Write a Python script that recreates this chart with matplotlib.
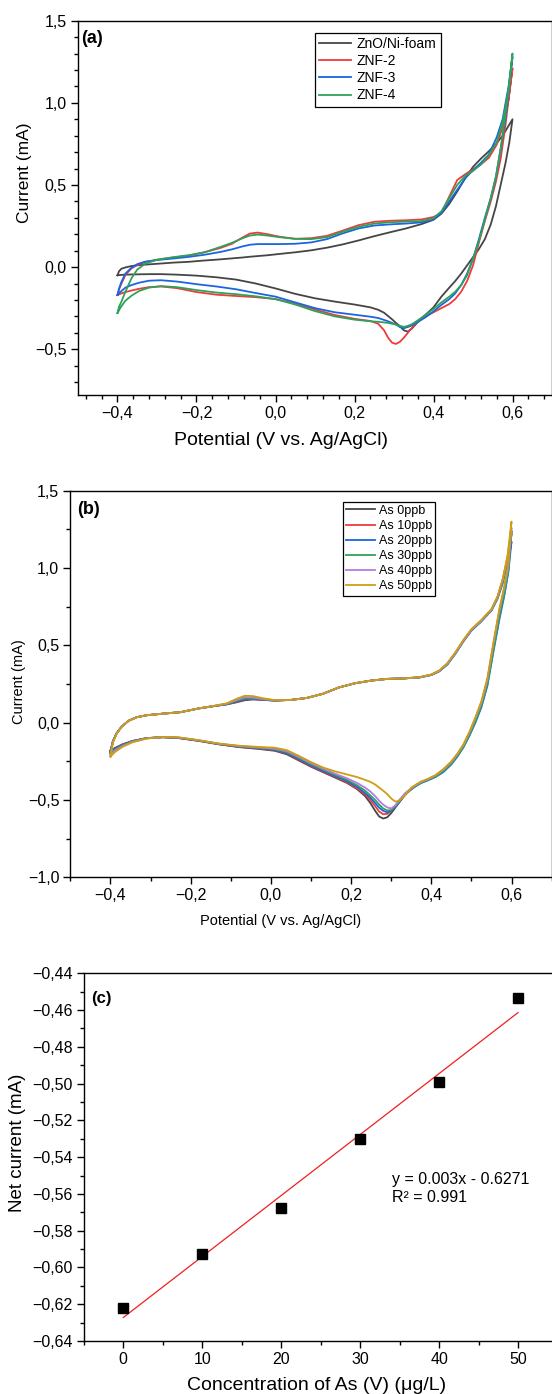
import numpy as np
import matplotlib
matplotlib.use("Agg")
import matplotlib.pyplot as plt
from matplotlib.ticker import MultipleLocator, FuncFormatter

plt.rcParams["font.family"] = ["Liberation Sans", "DejaVu Sans"]

# ---------------- panel (a): CVs of the electrodes ----------------
E_fwd_a = [-0.400, -0.396, -0.390, -0.380, -0.365, -0.350, -0.330, -0.300, -0.260, -0.220,
           -0.180, -0.140, -0.110, -0.085, -0.065, -0.045, -0.020, 0.010, 0.050, 0.090,
           0.130, 0.170, 0.210, 0.250, 0.290, 0.330, 0.370, 0.400, 0.420, 0.440,
           0.460, 0.480, 0.500, 0.520, 0.540, 0.560, 0.575, 0.590, 0.600]
E_rev_a = [0.600, 0.592, 0.582, 0.570, 0.558, 0.545, 0.530, 0.515, 0.500, 0.485,
           0.470, 0.455, 0.440, 0.420, 0.400, 0.380, 0.360, 0.345, 0.335, 0.325,
           0.315, 0.305, 0.295, 0.285, 0.275, 0.260, 0.240, 0.200, 0.150, 0.100,
           0.050, 0.000, -0.050, -0.100, -0.150, -0.200, -0.250, -0.290, -0.320, -0.345,
           -0.365, -0.380, -0.392, -0.400]

names_a = ["ZnO/Ni-foam", "ZNF-2", "ZNF-3", "ZNF-4"]
colors_a = ["#454545", "#ee3b3b", "#1a66e0", "#2ea25a"]

fwd_zno = [-0.05, -0.025, -0.010, -0.002, 0.006, 0.011, 0.015, 0.020, 0.027, 0.032,
           0.040, 0.047, 0.053, 0.058, 0.063, 0.067, 0.072, 0.080, 0.090, 0.102,
           0.118, 0.138, 0.162, 0.188, 0.212, 0.235, 0.262, 0.288, 0.325, 0.385,
           0.460, 0.540, 0.610, 0.660, 0.705, 0.755, 0.800, 0.860, 0.900]
rev_zno = [0.90, 0.76, 0.63, 0.50, 0.37, 0.26, 0.17, 0.11, 0.06, 0.01,
           -0.04, -0.085, -0.125, -0.18, -0.245, -0.29, -0.335, -0.375, -0.393, -0.385,
           -0.36, -0.34, -0.318, -0.298, -0.278, -0.26, -0.245, -0.228, -0.21, -0.19,
           -0.163, -0.13, -0.10, -0.076, -0.062, -0.052, -0.046, -0.043, -0.043, -0.044,
           -0.045, -0.046, -0.048, -0.05]

fwd_znf2 = [-0.17, -0.135, -0.10, -0.048, -0.008, 0.012, 0.030, 0.045, 0.058, 0.070,
            0.090, 0.116, 0.142, 0.178, 0.204, 0.210, 0.200, 0.185, 0.172, 0.176,
            0.190, 0.222, 0.255, 0.276, 0.282, 0.285, 0.290, 0.305, 0.33, 0.43,
            0.53, 0.565, 0.595, 0.625, 0.665, 0.745, 0.85, 1.02, 1.21]
rev_znf2 = [1.21, 1.06, 0.86, 0.66, 0.52, 0.40, 0.28, 0.15, 0.01, -0.085,
            -0.15, -0.195, -0.225, -0.25, -0.275, -0.30, -0.33, -0.37, -0.40, -0.43,
            -0.455, -0.468, -0.46, -0.43, -0.385, -0.345, -0.328, -0.315, -0.292, -0.258,
            -0.222, -0.195, -0.183, -0.176, -0.168, -0.152, -0.128, -0.118, -0.122, -0.132,
            -0.143, -0.152, -0.162, -0.17]

fwd_znf3 = [-0.17, -0.13, -0.09, -0.04, -0.005, 0.018, 0.033, 0.043, 0.052, 0.062,
            0.075, 0.092, 0.108, 0.125, 0.136, 0.140, 0.140, 0.140, 0.142, 0.150,
            0.170, 0.205, 0.235, 0.253, 0.260, 0.265, 0.272, 0.290, 0.33, 0.40,
            0.47, 0.54, 0.59, 0.635, 0.685, 0.79, 0.90, 1.10, 1.28]
rev_znf3 = [1.28, 1.10, 0.90, 0.72, 0.55, 0.42, 0.30, 0.17, 0.05, -0.04,
            -0.11, -0.16, -0.195, -0.23, -0.27, -0.305, -0.335, -0.355, -0.365, -0.372,
            -0.365, -0.35, -0.34, -0.33, -0.322, -0.31, -0.302, -0.29, -0.275, -0.25,
            -0.215, -0.18, -0.158, -0.135, -0.118, -0.104, -0.088, -0.08, -0.083, -0.095,
            -0.11, -0.125, -0.15, -0.17]

fwd_znf4 = [-0.28, -0.24, -0.21, -0.15, -0.07, -0.015, 0.020, 0.045, 0.060, 0.072,
            0.090, 0.122, 0.148, 0.174, 0.192, 0.198, 0.192, 0.182, 0.172, 0.170,
            0.182, 0.215, 0.245, 0.265, 0.273, 0.277, 0.280, 0.298, 0.34, 0.42,
            0.50, 0.555, 0.585, 0.625, 0.68, 0.76, 0.88, 1.08, 1.30]
rev_znf4 = [1.30, 1.12, 0.92, 0.72, 0.55, 0.42, 0.29, 0.16, 0.05, -0.05,
            -0.11, -0.15, -0.18, -0.215, -0.255, -0.29, -0.325, -0.348, -0.358, -0.364,
            -0.358, -0.35, -0.345, -0.34, -0.337, -0.333, -0.33, -0.32, -0.30, -0.268,
            -0.228, -0.195, -0.178, -0.165, -0.155, -0.14, -0.122, -0.116, -0.125, -0.145,
            -0.175, -0.205, -0.245, -0.28]

fwd_a = [fwd_zno, fwd_znf2, fwd_znf3, fwd_znf4]
rev_a = [rev_zno, rev_znf2, rev_znf3, rev_znf4]

# ---------------- panel (b): CVs with As additions ----------------
E_fwd_b = [-0.400, -0.394, -0.385, -0.372, -0.355, -0.335, -0.310, -0.270, -0.225, -0.180,
           -0.140, -0.110, -0.085, -0.065, -0.045, -0.020, 0.010, 0.050, 0.090, 0.130,
           0.170, 0.210, 0.250, 0.290, 0.330, 0.370, 0.400, 0.420, 0.440, 0.460,
           0.480, 0.500, 0.525, 0.550, 0.565, 0.578, 0.590, 0.600]
E_rev_b = [0.600, 0.592, 0.582, 0.570, 0.555, 0.540, 0.525, 0.510, 0.495, 0.480,
           0.465, 0.450, 0.430, 0.410, 0.390, 0.375, 0.365, 0.350, 0.335, 0.320,
           0.310, 0.300, 0.290, 0.280, 0.270, 0.260, 0.248, 0.235, 0.215, 0.190,
           0.160, 0.130, 0.100, 0.070, 0.040, 0.010, -0.030, -0.080, -0.130, -0.180,
           -0.230, -0.270, -0.310, -0.345, -0.370, -0.390, -0.400]

names_b = ["As 0ppb", "As 10ppb", "As 20ppb", "As 30ppb", "As 40ppb", "As 50ppb"]
colors_b = ["#454545", "#ee3b3b", "#1a66e0", "#2ea25a", "#b57be3", "#cf9e10"]

fwd_as0 = [-0.18, -0.12, -0.07, -0.025, 0.012, 0.035, 0.048, 0.058, 0.068, 0.092,
           0.108, 0.118, 0.132, 0.145, 0.150, 0.147, 0.143, 0.147, 0.160, 0.187,
           0.228, 0.255, 0.272, 0.283, 0.286, 0.293, 0.310, 0.335, 0.38, 0.45,
           0.53, 0.60, 0.66, 0.73, 0.81, 0.92, 1.06, 1.24]
fwd_as10 = [-0.19, -0.12, -0.07, -0.025, 0.012, 0.035, 0.048, 0.058, 0.068, 0.092,
            0.108, 0.119, 0.135, 0.150, 0.153, 0.148, 0.143, 0.147, 0.160, 0.187,
            0.228, 0.255, 0.272, 0.283, 0.286, 0.293, 0.310, 0.335, 0.38, 0.45,
            0.53, 0.60, 0.66, 0.73, 0.81, 0.92, 1.05, 1.22]
fwd_as20 = [-0.19, -0.12, -0.07, -0.025, 0.012, 0.035, 0.048, 0.058, 0.068, 0.092,
            0.108, 0.120, 0.138, 0.152, 0.155, 0.149, 0.143, 0.147, 0.160, 0.187,
            0.228, 0.255, 0.272, 0.283, 0.286, 0.292, 0.308, 0.332, 0.375, 0.445,
            0.525, 0.595, 0.655, 0.725, 0.80, 0.90, 1.03, 1.17]
fwd_as30 = [-0.20, -0.12, -0.07, -0.025, 0.012, 0.035, 0.048, 0.058, 0.068, 0.092,
            0.108, 0.121, 0.142, 0.157, 0.158, 0.151, 0.144, 0.147, 0.160, 0.187,
            0.228, 0.255, 0.272, 0.283, 0.286, 0.292, 0.308, 0.333, 0.377, 0.447,
            0.527, 0.597, 0.657, 0.727, 0.805, 0.91, 1.05, 1.23]
fwd_as40 = [-0.21, -0.125, -0.072, -0.025, 0.012, 0.035, 0.048, 0.058, 0.068, 0.092,
            0.109, 0.123, 0.148, 0.165, 0.163, 0.153, 0.145, 0.147, 0.160, 0.187,
            0.228, 0.255, 0.272, 0.283, 0.286, 0.293, 0.310, 0.335, 0.38, 0.45,
            0.53, 0.60, 0.66, 0.73, 0.81, 0.92, 1.07, 1.26]
fwd_as50 = [-0.22, -0.13, -0.075, -0.026, 0.012, 0.035, 0.048, 0.058, 0.068, 0.092,
            0.110, 0.125, 0.155, 0.174, 0.172, 0.158, 0.146, 0.147, 0.160, 0.187,
            0.228, 0.255, 0.272, 0.283, 0.286, 0.294, 0.312, 0.338, 0.385, 0.455,
            0.535, 0.605, 0.665, 0.735, 0.815, 0.93, 1.08, 1.30]

rev_as0 = [1.24, 1.00, 0.86, 0.72, 0.50, 0.27, 0.12, 0.02, -0.07, -0.15,
           -0.21, -0.26, -0.31, -0.345, -0.37, -0.385, -0.40, -0.43, -0.465, -0.515,
           -0.55, -0.585, -0.612, -0.62, -0.607, -0.57, -0.52, -0.475, -0.43, -0.39,
           -0.355, -0.32, -0.285, -0.245, -0.205, -0.182, -0.170, -0.158, -0.140, -0.118,
           -0.100, -0.095, -0.100, -0.118, -0.140, -0.165, -0.180]
rev_as10 = [1.22, 1.00, 0.86, 0.72, 0.50, 0.27, 0.12, 0.02, -0.07, -0.15,
            -0.21, -0.26, -0.31, -0.345, -0.37, -0.385, -0.40, -0.43, -0.46, -0.51,
            -0.54, -0.57, -0.59, -0.592, -0.575, -0.54, -0.50, -0.465, -0.425, -0.385,
            -0.35, -0.315, -0.28, -0.24, -0.20, -0.178, -0.167, -0.156, -0.139, -0.117,
            -0.099, -0.094, -0.100, -0.119, -0.142, -0.168, -0.190]
rev_as20 = [1.17, 0.97, 0.82, 0.67, 0.46, 0.24, 0.10, 0.0, -0.085, -0.16,
            -0.22, -0.27, -0.32, -0.352, -0.375, -0.39, -0.405, -0.43, -0.465, -0.515,
            -0.545, -0.57, -0.58, -0.57, -0.55, -0.52, -0.485, -0.455, -0.415, -0.378,
            -0.345, -0.31, -0.275, -0.235, -0.197, -0.176, -0.165, -0.155, -0.138, -0.116,
            -0.098, -0.093, -0.100, -0.120, -0.144, -0.170, -0.190]
rev_as30 = [1.23, 0.98, 0.83, 0.69, 0.47, 0.25, 0.11, 0.01, -0.08, -0.16,
            -0.215, -0.265, -0.315, -0.35, -0.372, -0.388, -0.402, -0.43, -0.46, -0.51,
            -0.54, -0.565, -0.568, -0.555, -0.53, -0.50, -0.47, -0.44, -0.405, -0.37,
            -0.338, -0.303, -0.268, -0.228, -0.19, -0.172, -0.163, -0.153, -0.137, -0.115,
            -0.097, -0.093, -0.101, -0.122, -0.147, -0.175, -0.200]
rev_as40 = [1.26, 1.01, 0.87, 0.73, 0.51, 0.28, 0.13, 0.03, -0.065, -0.145,
            -0.205, -0.255, -0.305, -0.342, -0.368, -0.383, -0.398, -0.425, -0.455, -0.50,
            -0.535, -0.555, -0.548, -0.53, -0.505, -0.475, -0.445, -0.42, -0.39, -0.36,
            -0.33, -0.297, -0.262, -0.222, -0.185, -0.168, -0.160, -0.151, -0.136, -0.114,
            -0.096, -0.093, -0.102, -0.124, -0.151, -0.182, -0.210]
rev_as50 = [1.30, 1.03, 0.88, 0.74, 0.52, 0.29, 0.14, 0.035, -0.06, -0.14,
            -0.20, -0.25, -0.30, -0.34, -0.365, -0.38, -0.395, -0.42, -0.47, -0.505,
            -0.51, -0.49, -0.462, -0.44, -0.42, -0.40, -0.383, -0.37, -0.352, -0.335,
            -0.315, -0.29, -0.255, -0.215, -0.178, -0.162, -0.157, -0.149, -0.135, -0.113,
            -0.095, -0.093, -0.103, -0.127, -0.156, -0.192, -0.220]

fwd_b = [fwd_as0, fwd_as10, fwd_as20, fwd_as30, fwd_as40, fwd_as50]
rev_b = [rev_as0, rev_as10, rev_as20, rev_as30, rev_as40, rev_as50]

# ---------------- panel (c): calibration ----------------
conc = [0, 10, 20, 30, 40, 50]
net_current = [-0.6222, -0.5927, -0.5678, -0.5302, -0.4993, -0.4536]


def comma_fmt(dec):
    def f(v, pos):
        if abs(v) < 1e-9:
            v = 0.0
        return f"{v:.{dec}f}".replace(".", ",").replace("-", "\u2212")
    return FuncFormatter(f)


def style_axes(ax):
    for s in ax.spines.values():
        s.set_linewidth(1.0)
        s.set_color("black")
    ax.tick_params(which="both", direction="out", top=False, right=False,
                   width=1.0, labelsize=11.5)
    ax.tick_params(which="major", length=5, pad=3)
    ax.tick_params(which="minor", length=3)


W, H = 552, 1394
fig = plt.figure(figsize=(W / 100, H / 100), dpi=100)


def px_axes(l, t, r, b):
    return fig.add_axes([l / W, 1 - b / H, (r - l) / W, (b - t) / H])


# panel a
axa = px_axes(78, 20.7, 552, 395.2)
for name, col, fw, rv in zip(names_a, colors_a, fwd_a, rev_a):
    axa.plot(E_fwd_a + E_rev_a, fw + rv, color=col, lw=1.3, label=name)
axa.set_xlim(-0.5, 0.7)
axa.set_ylim(-0.78, 1.5)
axa.xaxis.set_major_locator(MultipleLocator(0.2))
axa.xaxis.set_minor_locator(MultipleLocator(0.04))
axa.yaxis.set_major_locator(MultipleLocator(0.5))
axa.yaxis.set_minor_locator(MultipleLocator(0.1))
axa.xaxis.set_major_formatter(comma_fmt(1))
axa.yaxis.set_major_formatter(comma_fmt(1))
style_axes(axa)
axa.set_xlabel("Potential (V vs. Ag/AgCl)", fontsize=14)
axa.set_ylabel("Current (mA)", fontsize=12.5)
axa.xaxis.set_label_coords(0.428, -0.12)
axa.yaxis.set_label_coords(-0.112, 0.595)
axa.xaxis.label.set_va("center")
axa.yaxis.label.set_va("center")
axa.text(0.007, 0.952, "(a)", transform=axa.transAxes, fontsize=13,
         fontweight="bold", va="center", ha="left")
leg = axa.legend(loc="upper left", bbox_to_anchor=(0.5, 0.967), fontsize=10,
                 frameon=True, fancybox=False, framealpha=1, edgecolor="black",
                 handlelength=2.3, handletextpad=0.4, labelspacing=0.22,
                 borderpad=0.3, borderaxespad=0)
leg.get_frame().set_linewidth(0.9)

# panel b
axb = px_axes(70.4, 490.7, 551.6, 877.3)
for name, col, fw, rv in zip(names_b, colors_b, fwd_b, rev_b):
    axb.plot(E_fwd_b + E_rev_b, fw + rv, color=col, lw=1.3, label=name)
axb.set_xlim(-0.5, 0.7)
axb.set_ylim(-1.0, 1.5)
axb.xaxis.set_major_locator(MultipleLocator(0.2))
axb.xaxis.set_minor_locator(MultipleLocator(0.1))
axb.yaxis.set_major_locator(MultipleLocator(0.5))
axb.yaxis.set_minor_locator(MultipleLocator(0.25))
axb.xaxis.set_major_formatter(comma_fmt(1))
axb.yaxis.set_major_formatter(comma_fmt(1))
style_axes(axb)
axb.set_xlabel("Potential (V vs. Ag/AgCl)", fontsize=10.5)
axb.set_ylabel("Current (mA)", fontsize=10.5)
axb.xaxis.set_label_coords(0.437, -0.112)
axb.yaxis.set_label_coords(-0.106, 0.505)
axb.xaxis.label.set_va("center")
axb.yaxis.label.set_va("center")
axb.text(0.013, 0.952, "(b)", transform=axb.transAxes, fontsize=13,
         fontweight="bold", va="center", ha="left")
leg = axb.legend(loc="upper left", bbox_to_anchor=(0.566, 0.9716), fontsize=9,
                 frameon=True, fancybox=False, framealpha=1, edgecolor="black",
                 handlelength=2.3, handletextpad=0.35, labelspacing=0.25,
                 borderpad=0.25, borderaxespad=0)
leg.get_frame().set_linewidth(0.9)

# panel c
axc = px_axes(83.8, 973.3, 557.5, 1341)
slope, icpt = np.polyfit(conc, net_current, 1)
xfit = np.array([min(conc), max(conc)])
axc.plot(xfit, slope * xfit + icpt, color="#ee2020", lw=0.9)
axc.plot(conc, net_current, "s", color="black", ms=6.5)
axc.set_xlim(-5, 55)
axc.set_ylim(-0.64, -0.44)
axc.xaxis.set_major_locator(MultipleLocator(10))
axc.xaxis.set_minor_locator(MultipleLocator(5))
axc.yaxis.set_major_locator(MultipleLocator(0.02))
axc.yaxis.set_minor_locator(MultipleLocator(0.01))
axc.xaxis.set_major_formatter(comma_fmt(0))
axc.yaxis.set_major_formatter(comma_fmt(2))
style_axes(axc)
axc.set_xlabel("Concentration of As (V) (\u03bcg/L)", fontsize=14)
axc.set_ylabel("Net current (mA)", fontsize=13.5)
axc.xaxis.set_label_coords(0.492, -0.12)
axc.yaxis.set_label_coords(-0.141, 0.538)
axc.xaxis.label.set_va("center")
axc.yaxis.label.set_va("center")
axc.text(0.015, 0.932, "(c)", transform=axc.transAxes, fontsize=12,
         fontweight="bold", va="center", ha="left")
axc.text(0.651, 0.415, "y = 0.003x - 0.6271\nR\u00b2 = 0.991", transform=axc.transAxes,
         fontsize=11.5, va="center", ha="left", linespacing=1.25)

fig.savefig("out.png", dpi=100)
